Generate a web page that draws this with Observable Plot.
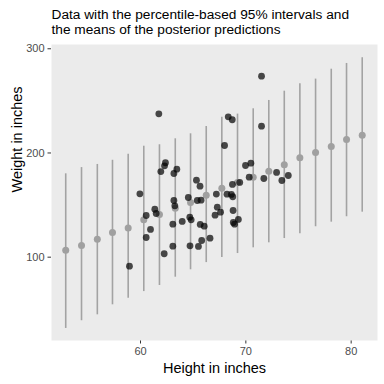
<!DOCTYPE html>
<html>
<head>
<meta charset="utf-8">
<script src="https://cdn.jsdelivr.net/npm/d3@7"></script>
<script src="https://cdn.jsdelivr.net/npm/@observablehq/plot@0.6"></script>
<style>
  html, body { margin: 0; padding: 0; background: #ffffff; }
  #chart { width: 384px; height: 384px; }
  #chart svg { font-family: "Liberation Sans", Arial, sans-serif; }
  [aria-label^="x-axis"] text, [aria-label^="y-axis"] text { fill: #4D4D4D; }
  [aria-label^="x-axis"] line, [aria-label^="y-axis"] line, [aria-label^="x-axis"] path, [aria-label^="y-axis"] path { stroke: #333333; }
</style>
</head>
<body>
<div id="chart"></div>
<script>
// Observed data: height (in) and weight
const heights = [61.74, 71.49, 68.33, 68.71, 71.49, 67.98, 62.37, 62.28, 61.93, 63.45,
  63.17, 59.94, 65.31, 65.65, 64.54, 63.17, 63.26, 65.39, 65.75, 61.36,
  61.49, 60.54, 60.95, 60.54, 63.07, 63.96, 64.68, 64.81, 65.67, 66.05,
  63.07, 62.25, 64.70, 65.50, 65.81, 66.60, 58.95, 69.97, 70.48, 70.32,
  71.71, 72.92, 74.03, 73.42, 69.42, 68.73, 67.20, 68.21, 68.63, 68.76,
  67.29, 67.60, 67.08, 68.79, 69.29, 68.81, 68.93];
const weights = [237.6, 273.7, 234.7, 231.9, 225.7, 207.2, 190.6, 187.7, 182.2, 184.5,
  180.3, 160.8, 173.9, 168.1, 157.3, 154.4, 149.3, 154.4, 154.7, 146.0,
  141.9, 140.0, 126.6, 118.9, 131.7, 134.3, 138.4, 135.9, 131.4, 129.8,
  110.6, 103.3, 110.9, 110.3, 116.0, 118.2, 91.4, 188.0, 190.2, 176.8,
  175.5, 181.3, 178.4, 173.6, 171.7, 169.8, 160.6, 160.5, 160.2, 158.0,
  148.0, 143.2, 140.3, 144.8, 136.2, 133.3, 131.7];

// Posterior predictions: grid of heights, 95% interval bounds and means
const gridHeights = [52.9, 54.4, 55.9, 57.34, 58.83, 60.31, 61.80, 63.30, 64.75, 66.24,
  67.72, 69.21, 70.70, 72.18, 73.65, 75.13, 76.62, 78.11, 79.56, 81.05];
const lower = [31.6, 39, 44.7, 54.3, 60.7, 67, 72.8, 80.8, 87.9, 94.8,
  99.7, 103.5, 109, 113.8, 117.9, 122.4, 129.2, 133.6, 138.8, 143.2];
const upper = [180, 186, 189, 193, 198.9, 206.5, 207.9, 213.6, 218.4, 225.4,
  234.4, 237.3, 242.4, 250.4, 259.3, 266.4, 270.9, 280.4, 285.9, 291.4];
const means = [106.7, 111.2, 117.3, 123.7, 127.9, 135.9, 141, 147, 152.5, 159.5,
  166.2, 171.7, 176.8, 182.5, 188.7, 195.4, 200.5, 206.2, 212.9, 217];

const xTicks = [60, 70, 80];
const yTicks = [100, 200, 300];

const titleLines = ["Data with the percentile-based 95% intervals and", "the means of the posterior predictions"];
const xTitle = "Height in inches";
const yTitle = "Weight in inches";

const observed = heights.map((h, i) => ({height: h, weight: weights[i]}));
const preds = gridHeights.map((h, i) => ({height: h, lo: lower[i], hi: upper[i], mean: means[i]}));

const chart = Plot.plot({
  width: 384,
  height: 384,
  marginTop: 44,
  marginBottom: 44,
  marginLeft: 51,
  marginRight: 7,
  style: {background: "transparent", fontSize: "11px", color: "#333333", overflow: "visible"},
  x: {domain: [51.55, 82.5], ticks: xTicks, tickSize: 3.5, tickPadding: 3, label: null},
  y: {domain: [20.05, 304.1], ticks: yTicks, tickSize: 3.5, tickPadding: 3.5, label: null},
  marks: [
    Plot.frame({fill: "#EBEBEB", stroke: null}),
    Plot.ruleX(preds, {x: "height", y1: "lo", y2: "hi", stroke: "#A3A3A3", strokeWidth: 1.6}),
    Plot.dot(preds, {x: "height", y: "mean", r: 3.5, fill: "#A0A0A0", stroke: null}),
    Plot.dot(observed, {x: "height", y: "weight", r: 3.4, fill: "#000000", fillOpacity: 0.7, stroke: null}),
    Plot.text([titleLines[0]], {frameAnchor: "top-left", text: d => d, dy: -25.7, textAnchor: "start", lineAnchor: "bottom", fontSize: 13.7, fill: "#000000"}),
    Plot.text([titleLines[1]], {frameAnchor: "top-left", text: d => d, dy: -10.7, textAnchor: "start", lineAnchor: "bottom", fontSize: 13.7, fill: "#000000"}),
    Plot.text([xTitle], {frameAnchor: "bottom", text: d => d, dy: 32.7, lineAnchor: "bottom", fontSize: 14.5, fill: "#000000"}),
    Plot.text([yTitle], {frameAnchor: "left", text: d => d, dx: -34, rotate: -90, fontSize: 14.5, fill: "#000000"})
  ]
});
document.getElementById("chart").appendChild(chart);
</script>
</body>
</html>
